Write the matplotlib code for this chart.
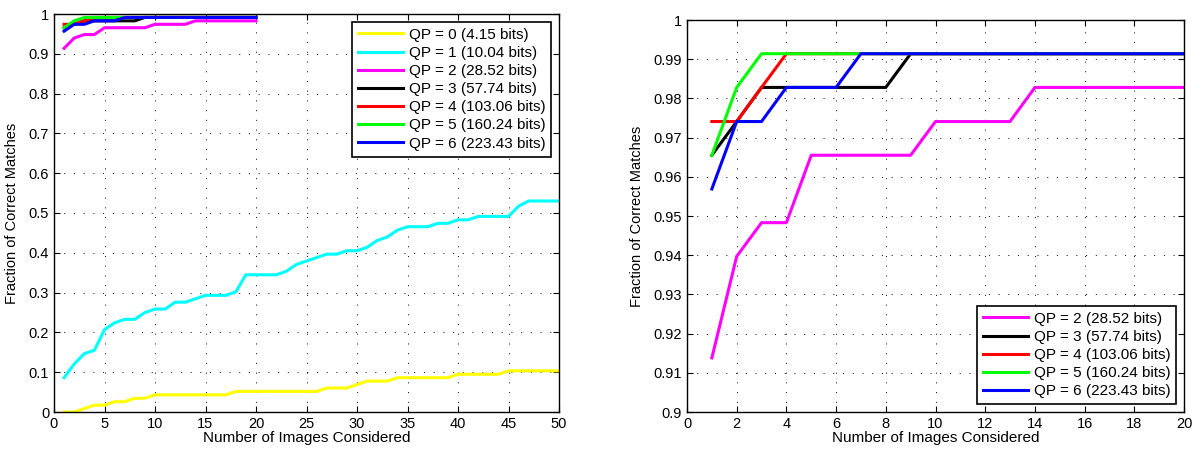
import numpy as np
import matplotlib.pyplot as plt

plt.rcParams['font.family'] = ['Liberation Sans', 'DejaVu Sans']

# number of images considered
n_all = list(range(1, 51))
n_top = list(range(1, 21))

qp0 = [0.0, 0.0, 0.0086, 0.0172, 0.0172, 0.0259, 0.0259, 0.0345, 0.0345, 0.0431,
       0.0431, 0.0431, 0.0431, 0.0431, 0.0431, 0.0431, 0.0431, 0.0517, 0.0517, 0.0517,
       0.0517, 0.0517, 0.0517, 0.0517, 0.0517, 0.0517, 0.0603, 0.0603, 0.0603, 0.069,
       0.0776, 0.0776, 0.0776, 0.0862, 0.0862, 0.0862, 0.0862, 0.0862, 0.0862, 0.0948,
       0.0948, 0.0948, 0.0948, 0.0948, 0.1034, 0.1034, 0.1034, 0.1034, 0.1034, 0.1034]
qp1 = [0.0862, 0.1207, 0.1466, 0.1552, 0.2069, 0.2241, 0.2328, 0.2328, 0.25, 0.2586,
       0.2586, 0.2759, 0.2759, 0.2845, 0.2931, 0.2931, 0.2931, 0.3017, 0.3448, 0.3448,
       0.3448, 0.3448, 0.3534, 0.3707, 0.3793, 0.3879, 0.3966, 0.3966, 0.4052, 0.4052,
       0.4138, 0.431, 0.4397, 0.4569, 0.4655, 0.4655, 0.4655, 0.4741, 0.4741, 0.4828,
       0.4828, 0.4914, 0.4914, 0.4914, 0.4914, 0.5172, 0.5302, 0.5302, 0.5302, 0.5302]
qp2 = [0.9138, 0.9397, 0.9483, 0.9483, 0.9655, 0.9655, 0.9655, 0.9655, 0.9655, 0.9741,
       0.9741, 0.9741, 0.9741, 0.9828, 0.9828, 0.9828, 0.9828, 0.9828, 0.9828, 0.9828]
qp3 = [0.9655, 0.9741, 0.9828, 0.9828, 0.9828, 0.9828, 0.9828, 0.9828, 0.9914, 0.9914,
       0.9914, 0.9914, 0.9914, 0.9914, 0.9914, 0.9914, 0.9914, 0.9914, 0.9914, 0.9914]
qp4 = [0.9741, 0.9741, 0.9828, 0.9914, 0.9914, 0.9914, 0.9914, 0.9914, 0.9914, 0.9914,
       0.9914, 0.9914, 0.9914, 0.9914, 0.9914, 0.9914, 0.9914, 0.9914, 0.9914, 0.9914]
qp5 = [0.9655, 0.9828, 0.9914, 0.9914, 0.9914, 0.9914, 0.9914, 0.9914, 0.9914, 0.9914,
       0.9914, 0.9914, 0.9914, 0.9914, 0.9914, 0.9914, 0.9914, 0.9914, 0.9914, 0.9914]
qp6 = [0.9569, 0.9741, 0.9741, 0.9828, 0.9828, 0.9828, 0.9914, 0.9914, 0.9914, 0.9914,
       0.9914, 0.9914, 0.9914, 0.9914, 0.9914, 0.9914, 0.9914, 0.9914, 0.9914, 0.9914]

labels = ['QP = 0 (4.15 bits)', 'QP = 1 (10.04 bits)', 'QP = 2 (28.52 bits)',
          'QP = 3 (57.74 bits)', 'QP = 4 (103.06 bits)', 'QP = 5 (160.24 bits)',
          'QP = 6 (223.43 bits)']
colors = ['#ffff00', '#00ffff', '#ff00ff', '#000000', '#ff0000', '#00ff00', '#0000ff']

fig = plt.figure(figsize=(11.96, 4.5), dpi=100)
W, H = 1196, 450
ax1 = fig.add_axes([54 / W, 1 - 412 / H, 505 / W, 398 / H])
ax2 = fig.add_axes([687 / W, 1 - 412 / H, 497 / W, 392 / H])


def style(ax):
    ax.grid(True, color='k', linestyle=(0, (1, 9)), linewidth=0.7)
    ax.tick_params(direction='in', top=True, right=True, labelsize=10.5,
                   length=4, width=0.8)
    for s in ax.spines.values():
        s.set_linewidth(1.0)
    ax.set_xlabel('Number of Images Considered', fontsize=11, labelpad=0)
    ax.set_ylabel('Fraction of Correct Matches', fontsize=10.5, labelpad=7)


def add_legend(ax, loc):
    leg = ax.legend(loc=loc, fontsize=11, handlelength=2.9, handletextpad=0.4,
                    labelspacing=0.27, borderpad=0.4, fancybox=False, framealpha=1,
                    edgecolor='k', borderaxespad=0.5)
    leg.get_frame().set_linewidth(1.2)


lw = 2.2
ax1.plot(n_all, qp0, color=colors[0], lw=lw, label=labels[0])
ax1.plot(n_all, qp1, color=colors[1], lw=lw, label=labels[1])
for ys, c, l in zip([qp2, qp3, qp4, qp5, qp6], colors[2:], labels[2:]):
    ax1.plot(n_top, ys, color=c, lw=lw, label=l)
ax1.set_xlim(0, 50)
ax1.set_ylim(0, 1)
ax1.set_xticks(np.arange(0, 51, 5))
ax1.set_yticks(np.arange(0, 1.01, 0.1))
ax1.set_yticklabels(['0', '0.1', '0.2', '0.3', '0.4', '0.5', '0.6', '0.7', '0.8', '0.9', '1'])
style(ax1)
add_legend(ax1, 'upper right')

for ys, c, l in zip([qp2, qp3, qp4, qp5, qp6], colors[2:], labels[2:]):
    ax2.plot(n_top, ys, color=c, lw=lw, label=l)
ax2.set_xlim(0, 20)
ax2.set_ylim(0.9, 1)
ax2.set_xticks(np.arange(0, 21, 2))
ax2.set_yticks(np.linspace(0.9, 1, 11))
ax2.set_yticklabels(['0.9', '0.91', '0.92', '0.93', '0.94', '0.95', '0.96', '0.97',
                     '0.98', '0.99', '1'])
style(ax2)
add_legend(ax2, 'lower right')

fig.savefig('out.png', dpi=100)
